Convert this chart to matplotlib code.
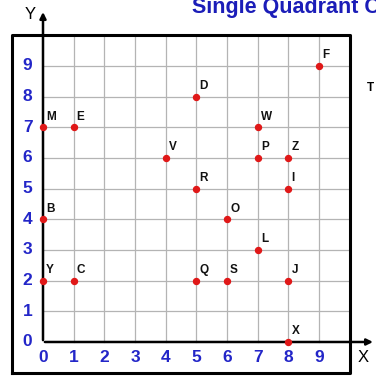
import matplotlib
matplotlib.use("Agg")
import matplotlib.pyplot as plt

plt.rcParams['font.family'] = ['Liberation Sans', 'DejaVu Sans']

labels = ["M", "E", "D", "F", "W", "V", "P", "Z", "R", "I", "O", "B", "L", "Y", "C", "Q", "S", "J", "X"]
xs = [0, 1, 5, 9, 7, 4, 7, 8, 5, 8, 6, 0, 7, 0, 1, 5, 6, 8, 8]
ys = [7, 7, 8, 9, 7, 6, 6, 6, 5, 5, 4, 4, 3, 2, 2, 2, 2, 2, 0]
ticks = list(range(10))

fig = plt.figure(figsize=(3.76, 3.76), dpi=100)
ax = fig.add_axes([0, 0, 1, 1])
ax.set_xlim(-1.402, 10.857)
ax.set_ylim(-1.109, 11.151)
ax.axis('off')

grid_c = '#b4b4b4'
for t in range(1, 10):
    ax.plot([t, t], [0, 10], color=grid_c, lw=0.9, zorder=1)
    ax.plot([0, 10], [t, t], color=grid_c, lw=0.9, zorder=1)

# outer box
ax.plot([-1, 10, 10, -1, -1], [-1, -1, 10, 10, -1], color='black', lw=2.2, zorder=2)

# axes with arrows
ax.annotate('', xy=(0, 10.85), xytext=(0, -0.03),
            arrowprops=dict(arrowstyle='-|>', color='black', lw=1.8, mutation_scale=9), zorder=3)
ax.annotate('', xy=(10.85, 0), xytext=(-0.03, 0),
            arrowprops=dict(arrowstyle='-|>', color='black', lw=1.8, mutation_scale=9), zorder=3)

blue = '#2326c8'
for t in ticks:
    ax.text(-0.5, t, str(t), color=blue, fontsize=12.5, fontweight='bold', ha='center', va='center')
    ax.text(t, -0.5, str(t), color=blue, fontsize=12.5, fontweight='bold', ha='center', va='center')

ax.text(-0.42, 10.68, 'Y', fontsize=12, color='black', ha='center', va='center')
ax.text(10.43, -0.5, 'X', fontsize=12, color='black', ha='center', va='center')

ax.plot(xs, ys, 'o', color='#e01818', markersize=4.3, zorder=4, clip_on=False)
for lab, x, y in zip(labels, xs, ys):
    ax.text(x + 0.1, y + 0.15, lab, fontsize=8.5, fontweight='bold', color='#111111',
            ha='left', va='bottom', zorder=5)

fig.text(192 / 376, 1 - 13 / 376, 'Single Quadrant Coordinate Grid', color='#1b1db8',
         fontsize=15.5, fontweight='bold', ha='left', va='baseline')
fig.text(367 / 376, 1 - 88 / 376, 'T', color='black', fontsize=8.5, fontweight='bold',
         ha='left', va='center')

fig.savefig('out.png', dpi=100)
